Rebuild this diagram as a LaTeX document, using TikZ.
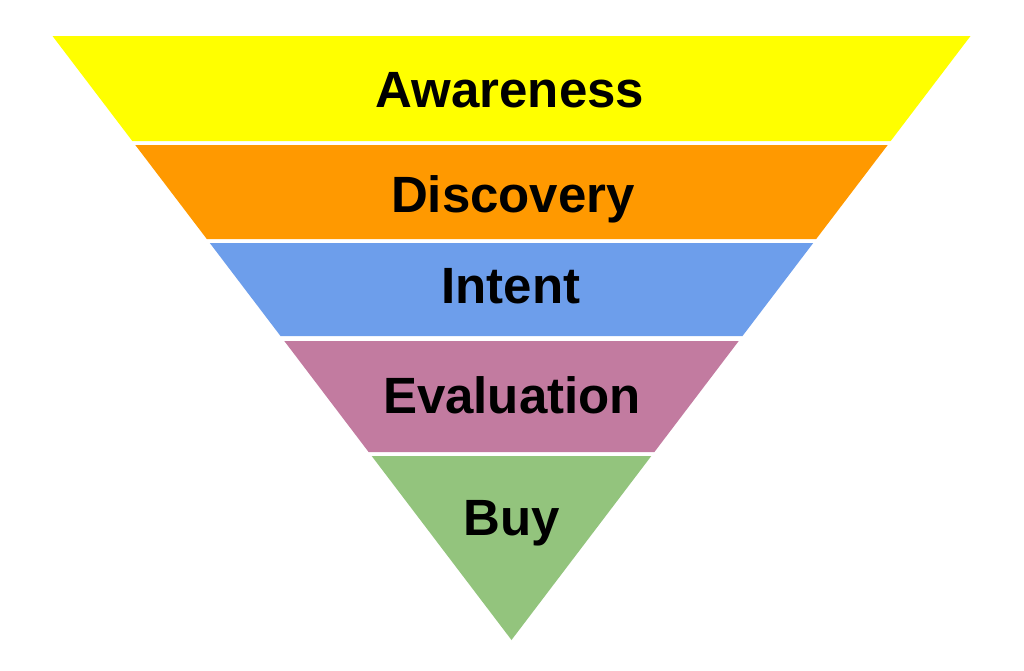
\documentclass[tikz,border=0pt]{standalone}
\usepackage{fontspec}
\setmainfont{Liberation Sans}
\usepackage{tikz}
\usepackage{xcolor}
\definecolor{Funnel-A}{RGB}{255, 255, 0}
\definecolor{Funnel-D}{RGB}{255, 153, 0}
\definecolor{Funnel-I}{RGB}{109, 158, 235}
\definecolor{Funnel-E}{RGB}{194, 123, 160}
\definecolor{Funnel-B}{RGB}{147, 196, 125}

\begin{document}
\begin{tikzpicture}[x=1pt, y=-1pt, font=\fontsize{51}{57}\selectfont\bfseries]

\useasboundingbox (0,0) rectangle (1024,670);

\fill [Funnel-A] (52.5,36) -- (970.5,36) -- (890.7,141) -- (132.3,141) -- cycle;
\fill [Funnel-D] (135.3,145) -- (887.7,145) -- (816.2,239) -- (206.8,239) -- cycle;
\fill [Funnel-I] (209.8,243) -- (813.2,243) -- (742.5,336) -- (280.5,336) -- cycle;
\fill [Funnel-E] (284.3,341) -- (738.7,341) -- (654.4,452) -- (368.6,452) -- cycle;
\fill [Funnel-B] (371.7,456) -- (651.3,456) -- (511.5,640) -- cycle;

\node [inner sep=0pt, anchor=base] (aw) at (510,107) {Awareness};
\node [inner sep=0pt, anchor=base] (di) at (513,212) {Discovery};
\node [inner sep=0pt, anchor=base] (in) at (511,303) {Intent};
\node [inner sep=0pt, anchor=base] (ev) at (512,413) {Evaluation};
\node [inner sep=0pt, anchor=base] (bu) at (512,535) {Buy};

\end{tikzpicture}
\end{document}
